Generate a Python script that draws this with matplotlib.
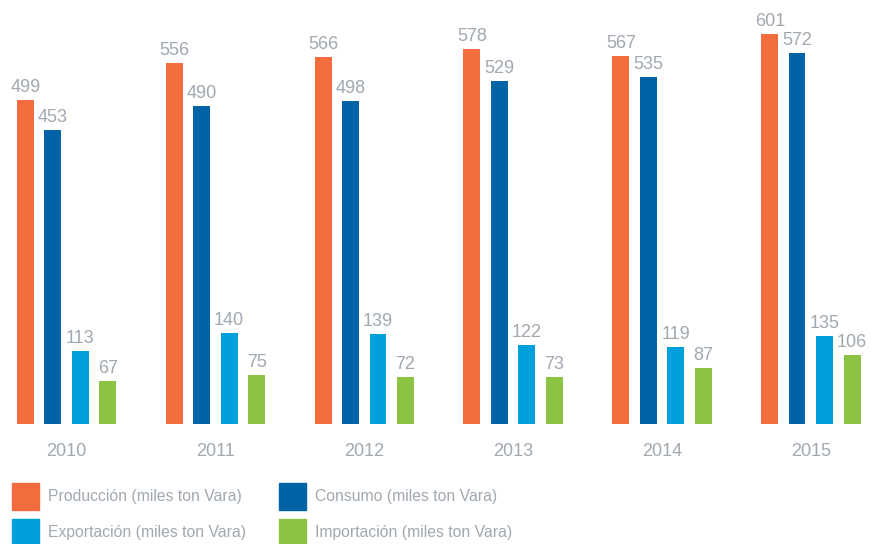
import matplotlib.pyplot as plt
from matplotlib.patches import Rectangle
import numpy as np

plt.rcParams['font.family'] = ['Liberation Sans', 'DejaVu Sans']

# data
years = ['2010', '2011', '2012', '2013', '2014', '2015']
produccion = [499, 556, 566, 578, 567, 601]
consumo = [453, 490, 498, 529, 535, 572]
exportacion = [113, 140, 139, 122, 119, 135]
importacion = [67, 75, 72, 73, 87, 106]

series_names = ['Producción (miles ton Vara)', 'Consumo (miles ton Vara)',
                'Exportación (miles ton Vara)', 'Importación (miles ton Vara)']
series = [produccion, consumo, exportacion, importacion]
colors = ['#F26C3E', '#0063A6', '#00A0DC', '#8BC443']
gray = '#A0A8B0'

fig = plt.figure(figsize=(8.71, 5.44), dpi=100)
ax = fig.add_axes([0, 120 / 544, 1, 424 / 544])

x = np.arange(len(years))
offsets = [-0.277, -0.094, 0.092, 0.277]
width = 0.114

for vals, off, col in zip(series, offsets, colors):
    bars = ax.bar(x + off, vals, width=width, color=col)
    for b, v in zip(bars, vals):
        ax.text(b.get_x() + b.get_width() / 2, v + 6, str(v),
                ha='center', va='bottom', fontsize=13, color=gray)

for xi, yr in zip(x, years):
    ax.text(xi, -42, yr, ha='center', va='center', fontsize=13, color=gray)

ax.set_xlim(-66.5 / 148.9, (871 - 66.5) / 148.9)
ax.set_ylim(0, 424 / 0.649)
ax.axis('off')

# legend drawn by hand
leg_x = [12, 279]
leg_y = [496, 532]
for k, (name, col) in enumerate(zip(series_names, colors)):
    px = leg_x[k % 2]
    py = leg_y[k // 2]
    fig.patches.append(Rectangle((px / 871, (544 - py - 13.5) / 544), 27 / 871, 27 / 544,
                                 transform=fig.transFigure, color=col, figure=fig))
    fig.text((px + 36) / 871, (544 - py) / 544, name, ha='left', va='center',
             fontsize=11.3, color=gray)

fig.savefig('out.png', dpi=100)
